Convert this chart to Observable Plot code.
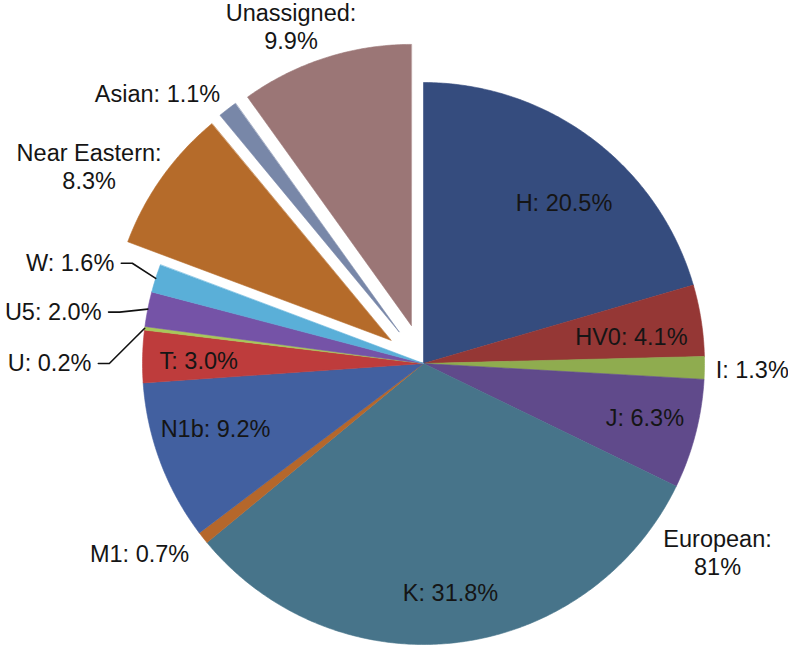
<!DOCTYPE html>
<html><head><meta charset="utf-8">
<script src="https://cdn.jsdelivr.net/npm/d3@7"></script>
<script src="https://cdn.jsdelivr.net/npm/@observablehq/plot@0.6"></script>
<style>
html,body{margin:0;padding:0;background:#fff;}
#chart svg{display:block;}
</style></head><body><div id="chart"></div>
<script>
// ---- data ----
const names = ["H","HV0","I","J","K","M1","N1b","T","U","U5","W","Near Eastern","Asian","Unassigned"];
const values = [20.5,4.1,1.3,6.3,31.8,0.7,9.2,3.0,0.2,2.0,1.6,8.3,1.1,9.9];
const colors = ["#354c7e","#953735","#8fac4f","#604a8b","#47748a","#b5672b","#4260a0","#be3c3c","#a8c85a","#7553a7","#5aafd8","#b56b2a","#7887a8","#9b7676"];
const explodedNames = ["Near Eastern","Asian","Unassigned"];
const groupNames = ["European"];
const groupMembers = [["H","HV0","I","J","K","M1","N1b","T","U","U5","W"]];
const groupValues = [81];

// ---- layout ----
const W = 788, H = 652, CX = 423, CY = 363, R = 281;
const PX = 1 / R;
const explode = 40 * PX;
const labelLayout = {
  "H": {da: 4.1, r: 0.762},
  "HV0": {da: 1.4, r: 0.746},
  "I": {da: 0, r: 1.17},
  "J": {da: -1.1, r: 0.81},
  "K": {da: 0.1, r: 0.82},
  "M1": {da: 4.6, r: 1.215},
  "N1b": {da: 3.3, r: 0.775},
  "T": {da: -0.6, r: 0.80},
  "U": {leader: [270, 1.118]},
  "U5": {leader: [279.6, 1.097]},
  "W": {leader: [289, 1.096]},
  "Near Eastern": {da: -4.9, r: 1.382, br: true},
  "Asian": {da: -6.9, r: 1.35},
  "Unassigned": {da: -3.6, r: 1.291, br: true}
};
const groupLayout = {"European": {da: -22.6, r: 1.243}};

const polar = (deg, r) => [r * Math.sin(deg * Math.PI / 180), r * Math.cos(deg * Math.PI / 180)];

const total = d3.sum(values);
let acc = 0;
const slices = names.map((name, i) => {
  const a0 = acc / total * 360; acc += values[i]; const a1 = acc / total * 360;
  return {name, value: values[i], a0, a1, mid: (a0 + a1) / 2, exploded: explodedNames.includes(name)};
});

function slicePoints(s) {
  const off = s.exploded ? polar(s.mid, explode) : [0, 0];
  const pts = [{name: s.name, x: off[0], y: off[1]}];
  const n = Math.max(2, Math.ceil((s.a1 - s.a0) / 0.5));
  for (let k = 0; k <= n; k++) {
    const a = s.a0 + (s.a1 - s.a0) * k / n;
    const p = polar(a, 1);
    pts.push({name: s.name, x: p[0] + off[0], y: p[1] + off[1]});
  }
  return pts;
}
const mainPts = slices.filter(s => !s.exploded).flatMap(slicePoints);
const explPts = slices.filter(s => s.exploded).flatMap(slicePoints);

const midLabels = [], endLabels = [], leaders = [];
for (const s of slices) {
  const L = labelLayout[s.name];
  const t = L.br ? `${s.name}:\n${s.value.toFixed(1)}%` : `${s.name}: ${s.value.toFixed(1)}%`;
  if (L.leader) {
    const rim = polar(s.mid, 1);
    const el = polar(L.leader[0], L.leader[1]);
    const end = [el[0] - 11 * PX, el[1]];
    leaders.push({name: s.name, x: rim[0], y: rim[1]}, {name: s.name, x: el[0], y: el[1]}, {name: s.name, x: end[0], y: end[1]});
    endLabels.push({text: t, x: end[0] - 7 * PX, y: end[1]});
  } else {
    const p = polar(s.mid + L.da, L.r);
    midLabels.push({text: t, x: p[0], y: p[1]});
  }
}
groupNames.forEach((g, i) => {
  const mem = slices.filter(s => groupMembers[i].includes(s.name));
  const mid = (mem[0].a0 + mem[mem.length - 1].a1) / 2;
  const L = groupLayout[g];
  const p = polar(mid + L.da, L.r);
  midLabels.push({text: `${g}:\n${groupValues[i]}%`, x: p[0], y: p[1]});
});

const font = "'Liberation Sans', Arial, Helvetica, sans-serif";
const chart = Plot.plot({
  width: W, height: H, margin: 0,
  x: {domain: [-CX / R, (W - CX) / R], axis: null},
  y: {domain: [-(H - CY) / R, CY / R], axis: null},
  color: {domain: names, range: colors},
  style: {fontFamily: font, background: "white"},
  marks: [
    Plot.line(mainPts, {x: "x", y: "y", z: "name", fill: "name", stroke: "name", strokeWidth: 0.6, curve: "linear-closed"}),
    Plot.line(explPts, {x: "x", y: "y", z: "name", fill: "name", stroke: "name", strokeWidth: 0.6, curve: "linear-closed"}),
    Plot.line(leaders, {x: "x", y: "y", z: "name", stroke: "#111", strokeWidth: 1.6}),
    Plot.text(midLabels, {x: "x", y: "y", text: "text", fontSize: 23.5, fill: "#151515", lineHeight: 1.19, textAnchor: "middle"}),
    Plot.text(endLabels, {x: "x", y: "y", text: "text", fontSize: 23.5, fill: "#151515", textAnchor: "end"})
  ]
});
document.getElementById("chart").appendChild(chart);
</script></body></html>
